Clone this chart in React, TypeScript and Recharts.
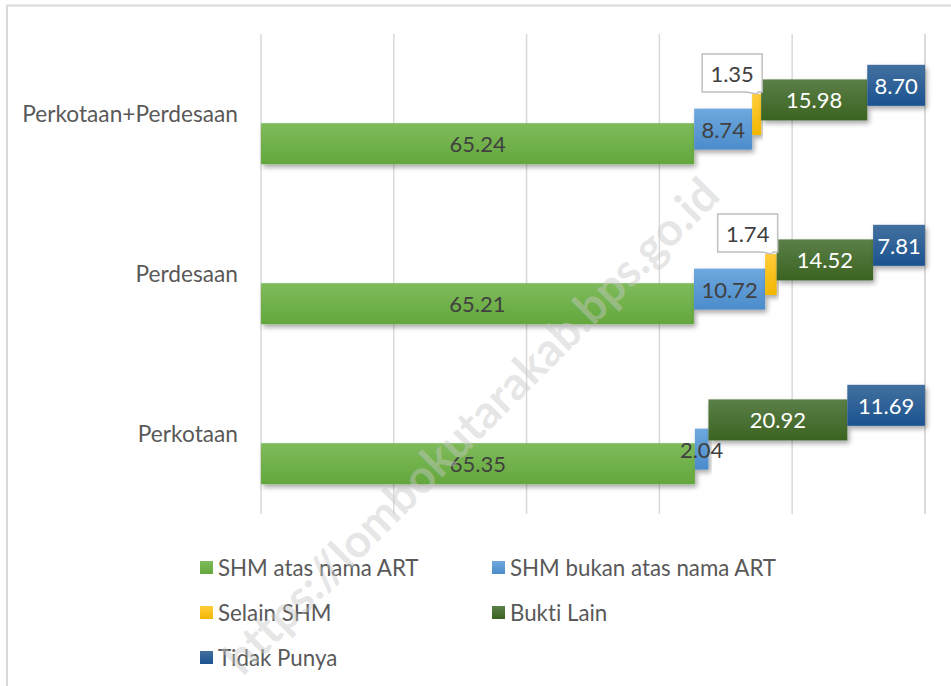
import React from 'react';
import { BarChart, Bar, XAxis, YAxis, CartesianGrid, LabelList } from 'recharts';

const categories = ['Perkotaan+Perdesaan', 'Perdesaan', 'Perkotaan'];
const shmAtasNama = [65.24, 65.21, 65.35];
const shmBukanAtasNama = [8.74, 10.72, 2.04];
const selainShm = [1.35, 1.74, 0];
const buktiLain = [15.98, 14.52, 20.92];
const tidakPunya = [8.7, 7.81, 11.69];
const seriesNames = ['SHM atas nama ART', 'SHM bukan atas nama ART', 'Selain SHM', 'Bukti Lain', 'Tidak Punya'];
const xTicks = [0, 20, 40, 60, 80, 100];
const watermark = 'https://lombokutarakab.bps.go.id';

const seriesValues = [shmAtasNama, shmBukanAtasNama, selainShm, buktiLain, tidakPunya];
const seriesKeys = ['s0', 's1', 's2', 's3', 's4'];
const gradTop = ['#7fbb5b', '#6ea8de', '#ffcd3a', '#5b7f48', '#43709f'];
const gradBottom = ['#63a73c', '#4b8ccb', '#f2b600', '#3b6320', '#1c5390'];
const legendColors = ['#70ad47', '#5b9bd5', '#ffc000', '#43682b', '#255e91'];
const labelColors = ['#404040', '#404040', '#404040', '#ffffff', '#ffffff'];

const data = categories.map((name, i) => {
  const row: any = { name };
  seriesKeys.forEach((k, s) => {
    row[k] = seriesValues[s][i];
  });
  return row;
});

const STEP = 14.6;
const FONT = 'Lato, "Open Sans", sans-serif';
const LABEL_SIZE = 22;

const makeShape = (idx: number) => (props: any) => {
  const { x, y, width, height } = props;
  if (!width || width <= 0) return <g />;
  const dy = (2 - idx) * STEP;
  return (
    <rect
      x={x}
      y={y + dy}
      width={width}
      height={height}
      fill={`url(#grad${idx})`}
      filter="url(#barShadow)"
    />
  );
};

const makeLabel = (idx: number) => (props: any) => {
  const { x, y, width, height, value } = props;
  if (!value) return null;
  const dy = (2 - idx) * STEP;
  const text = Number(value).toFixed(2);
  if (idx === 2) {
    const right = x + width + 1;
    const bottom = y + dy - 2;
    const w = 60;
    const h = 38;
    const left = right - w;
    const top = bottom - h;
    const tipX = x + width / 2;
    const tipY = y + dy;
    const d = `M${left},${top} H${right} V${bottom} H${right - 4} L${tipX},${tipY} L${right - 16},${bottom} H${left} Z`;
    return (
      <g>
        <path d={d} fill="#ffffff" stroke="#bfbfbf" strokeWidth={1.5} />
        <text
          x={left + w / 2}
          y={top + h / 2}
          textAnchor="middle"
          dominantBaseline="central"
          fill={labelColors[idx]}
          fontSize={LABEL_SIZE}
          fontFamily={FONT}
        >
          {text}
        </text>
      </g>
    );
  }
  return (
    <text
      x={x + width / 2}
      y={y + height / 2 + dy}
      textAnchor="middle"
      dominantBaseline="central"
      fill={labelColors[idx]}
      fontSize={LABEL_SIZE}
      fontFamily={FONT}
    >
      {text}
    </text>
  );
};

const legendPos = [
  { left: 200, top: 567 },
  { left: 492, top: 567 },
  { left: 200, top: 612 },
  { left: 492, top: 612 },
  { left: 200, top: 657 },
];

export default function App() {
  return (
    <div style={{ position: 'absolute', left: 0, top: 0, width: 951, height: 686, overflow: 'hidden', background: '#fff', fontFamily: FONT, fontVariantLigatures: 'none' }}>
      <svg width={0} height={0} style={{ position: 'absolute' }}>
        <defs>
          {seriesKeys.map((k, i) => (
            <linearGradient key={k} id={`grad${i}`} x1="0" y1="0" x2="0" y2="1">
              <stop offset="0%" stopColor={gradTop[i]} />
              <stop offset="100%" stopColor={gradBottom[i]} />
            </linearGradient>
          ))}
          <filter id="barShadow" x="-10%" y="-30%" width="130%" height="180%">
            <feDropShadow dx={2} dy={3} stdDeviation={2.5} floodColor="#000" floodOpacity={0.35} />
          </filter>
        </defs>
      </svg>
      <div style={{ position: 'absolute', left: 0, top: 0 }}>
        <BarChart
          width={951}
          height={686}
          data={data}
          layout="vertical"
          barSize={41}
          margin={{ top: 34, right: 26, bottom: 172, left: 21 }}
        >
          <CartesianGrid horizontal={false} vertical={true} stroke="#d9d9d9" strokeWidth={1.5} />
          <XAxis type="number" domain={[0, 100]} ticks={xTicks} hide />
          <YAxis
            type="category"
            dataKey="name"
            width={240}
            axisLine={false}
            tickLine={false}
            tickMargin={17}
            tick={{ fill: '#595959', fontSize: 22.7, fontFamily: FONT }}
          />
          {seriesKeys.map((k, i) => (
            <Bar
              key={k}
              dataKey={k}
              name={seriesNames[i]}
              stackId="a"
              fill={legendColors[i]}
              isAnimationActive={false}
              shape={makeShape(i)}
            >
              <LabelList dataKey={k} content={makeLabel(i)} />
            </Bar>
          ))}
        </BarChart>
      </div>
      {seriesNames.map((n, i) => (
        <div
          key={n}
          style={{
            position: 'absolute',
            left: legendPos[i].left,
            top: legendPos[i].top - 15,
            height: 30,
            display: 'flex',
            alignItems: 'center',
            whiteSpace: 'nowrap',
          }}
        >
          <div style={{ width: 13, height: 13, background: `linear-gradient(${gradTop[i]}, ${gradBottom[i]})`, marginRight: 5 }} />
          <span style={{ fontSize: 22.3, color: '#595959', fontFamily: FONT, fontVariantLigatures: 'none' }}>{n}</span>
        </div>
      ))}
      <svg width={951} height={686} style={{ position: 'absolute', left: 0, top: 0, pointerEvents: 'none' }}>
        <path d="M7,686 V5.5 H951" fill="none" stroke="#d9d9d9" strokeWidth={2} />
        <text
          x={470}
          y={425}
          textAnchor="middle"
          dominantBaseline="central"
          transform="rotate(-45 470 425)"
          fontSize={46}
          fontWeight="bold"
          fontFamily={FONT}
          fill="#c8c8c8"
          fillOpacity={0.45}
        >
          {watermark}
        </text>
      </svg>
    </div>
  );
}
